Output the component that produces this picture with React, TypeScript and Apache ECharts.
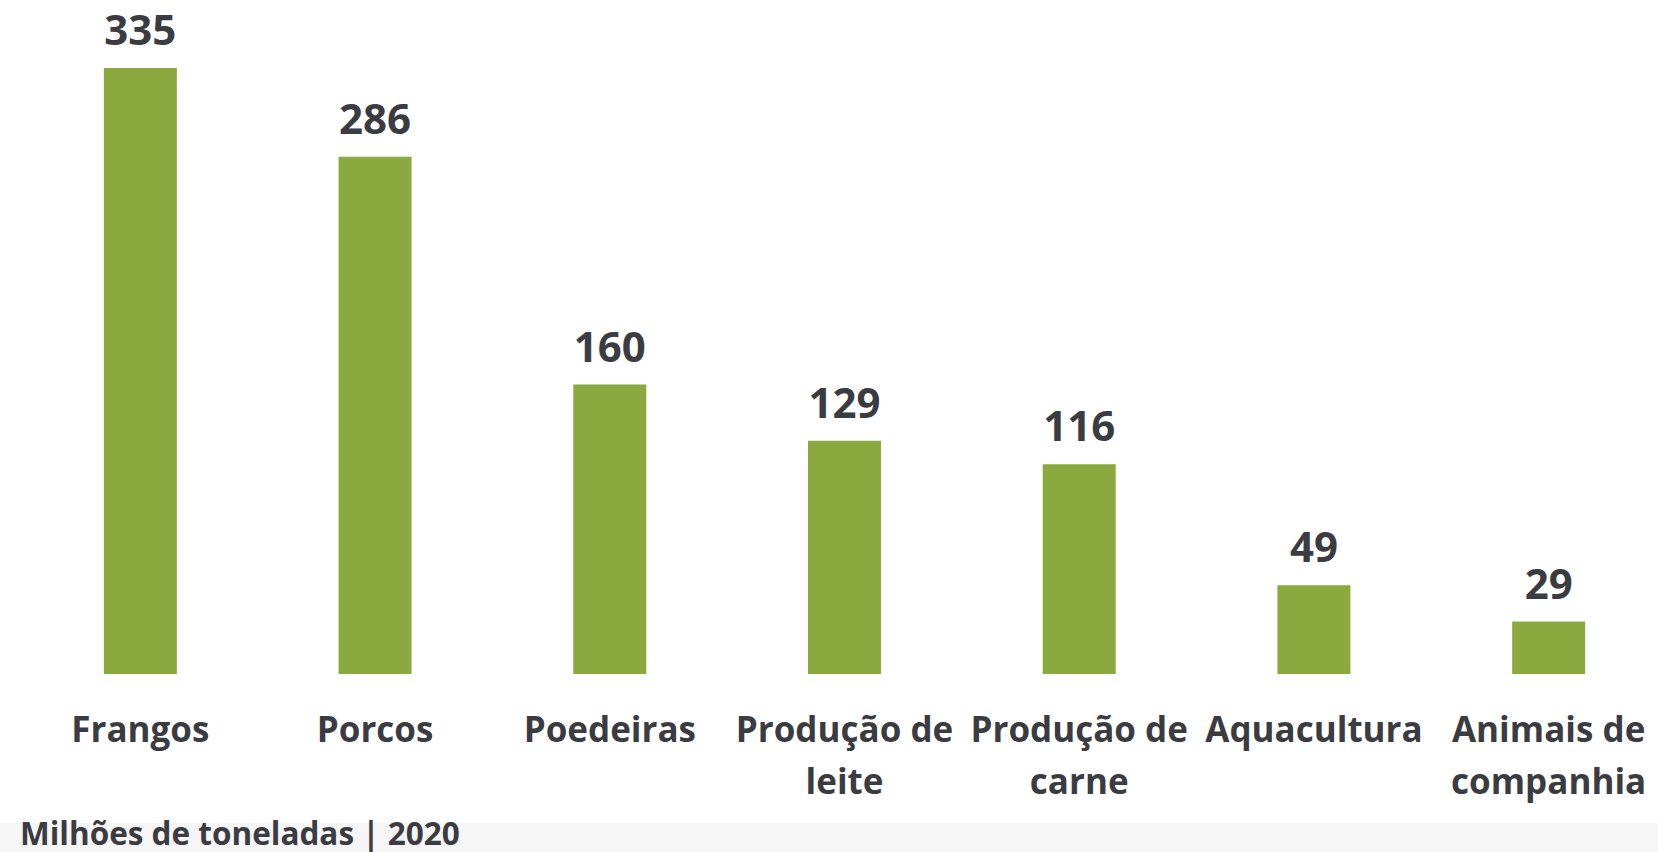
import React, { useEffect, useRef } from "react";
import * as echarts from "echarts";

const categories = [
  "Frangos",
  "Porcos",
  "Poedeiras",
  "Produção de\nleite",
  "Produção de\ncarne",
  "Aquacultura",
  "Animais de\ncompanhia",
];
const values = [335, 286, 160, 129, 116, 49, 29];
const subtitle = "Milhões de toneladas | 2020";

const BAR = "#8aaa3f";
const TXT = "#3b3c42";
const FONT = "'Open Sans', Lato, sans-serif";

export default function App() {
  const ref = useRef<HTMLDivElement>(null);
  useEffect(() => {
    if (!ref.current) return;
    const chart = echarts.init(ref.current, undefined, { renderer: "svg" });
    chart.setOption({
      animation: false,
      backgroundColor: "transparent",
      grid: { left: 23, right: 0, top: 68, bottom: 178, containLabel: false },
      xAxis: {
        type: "category",
        data: categories,
        axisLine: { show: false },
        axisTick: { show: false },
        axisLabel: {
          interval: 0,
          margin: 28,
          color: TXT,
          fontFamily: FONT,
          fontWeight: "bold",
          fontSize: 35,
          lineHeight: 52,
        },
      },
      yAxis: {
        type: "value",
        min: 0,
        max: 335,
        show: false,
        splitLine: { show: false },
      },
      series: [
        {
          type: "bar",
          data: values,
          barWidth: 73,
          itemStyle: { color: BAR },
          label: {
            show: true,
            position: "top",
            distance: 18,
            color: TXT,
            fontFamily: FONT,
            fontWeight: "bold",
            fontSize: 42,
            lineHeight: 43,
          },
        },
      ],
      graphic: [
        {
          type: "rect",
          left: 0,
          top: 823,
          z: -1,
          shape: { width: 1666, height: 29 },
          style: { fill: "#f5f6f5" },
        },
        {
          type: "text",
          x: 20,
          y: 832,
          z: 10,
          style: {
            text: subtitle,
            fill: TXT,
            font: `bold 31.5px ${FONT}`,
            verticalAlign: "middle",
            align: "left",
          },
        },
      ],
    });
    return () => chart.dispose();
  }, []);
  return (
    <div
      style={{
        position: "fixed",
        left: 0,
        top: 0,
        width: 1658,
        height: 852,
        overflow: "hidden",
        background: "#ffffff",
      }}
    >
      <div ref={ref} style={{ width: 1666, height: 852 }} />
    </div>
  );
}
